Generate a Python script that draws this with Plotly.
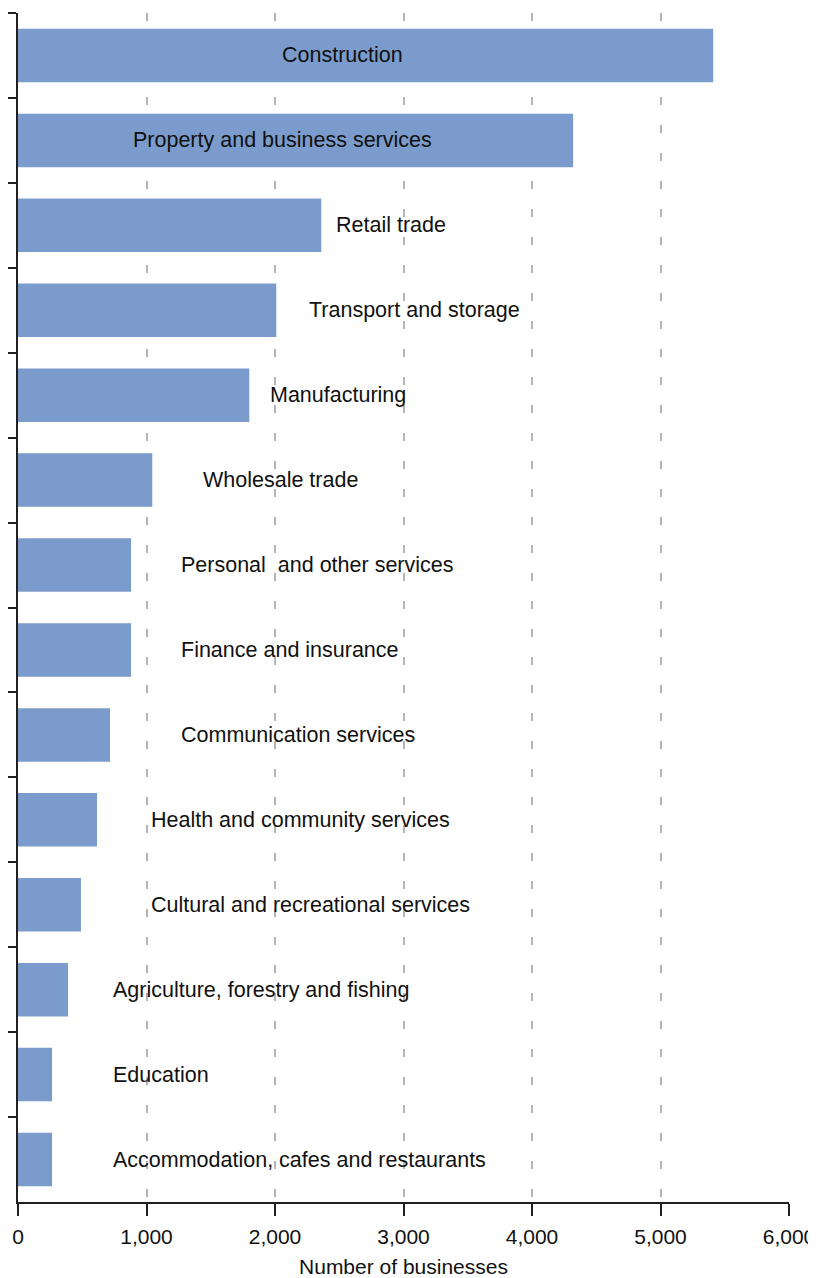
import plotly.graph_objects as go

# Categories top to bottom
industries = [
    "Construction",
    "Property and business services",
    "Retail trade",
    "Transport and storage",
    "Manufacturing",
    "Wholesale trade",
    "Personal  and other services",
    "Finance and insurance",
    "Communication services",
    "Health and community services",
    "Cultural and recreational services",
    "Agriculture, forestry and fishing",
    "Education",
    "Accommodation, cafes and restaurants",
]
businesses = [5410, 4320, 2360, 2010, 1800, 1045, 880, 880, 716, 615, 490, 389, 265, 265]

# where each label text starts (in number of businesses)
label_x = [2040, 880, 2460, 2250, 1945, 1425, 1255, 1255, 1255, 1020, 1020, 725, 725, 725]

x_ticks = [0, 1000, 2000, 3000, 4000, 5000, 6000]

FONT = "Liberation Sans, Arial, sans-serif"
BAR_COLOR = "#7a9bcb"
AXIS_COLOR = "#231f20"

fig = go.Figure()
fig.add_trace(go.Bar(
    x=businesses,
    y=industries,
    orientation="h",
    marker=dict(color=BAR_COLOR, line=dict(width=0)),
    hoverinfo="x+y",
    showlegend=False,
))

# category labels written on/next to the bars
for name, lx in zip(industries, label_x):
    fig.add_annotation(
        x=lx, y=name, text=name,
        xanchor="left", yanchor="middle",
        showarrow=False,
        font=dict(family=FONT, size=21.5, color="#111111"),
    )

# the page body adds an 8px offset, margins account for it
fig.update_layout(
    width=816, height=1278,
    margin=dict(l=10, r=35, t=5, b=84),
    paper_bgcolor="white",
    plot_bgcolor="white",
    bargap=0.37,
    font=dict(family=FONT, size=21, color="#111111"),
)

fig.update_xaxes(
    range=[0, 6000],
    automargin=False,
    tickvals=x_ticks,
    tickformat=",",
    ticks="outside", ticklen=12, tickwidth=2, tickcolor=AXIS_COLOR,
    ticklabelstandoff=3,
    showline=True, linewidth=2, linecolor=AXIS_COLOR,
    showgrid=True, gridcolor="#b4b4b4", gridwidth=2, griddash="8px,20px",
    zeroline=False,
    tickfont=dict(family=FONT, size=21, color="#111111"),
    title=dict(text="Number of businesses", standoff=12,
               font=dict(family=FONT, size=21, color="#111111")),
)

fig.update_yaxes(
    autorange="reversed",
    automargin=False,
    tickson="boundaries",
    ticks="outside", ticklen=8, tickwidth=2, tickcolor=AXIS_COLOR,
    showticklabels=False,
    showline=True, linewidth=2, linecolor=AXIS_COLOR,
    showgrid=False, zeroline=False,
)

fig.write_html("out.html")
